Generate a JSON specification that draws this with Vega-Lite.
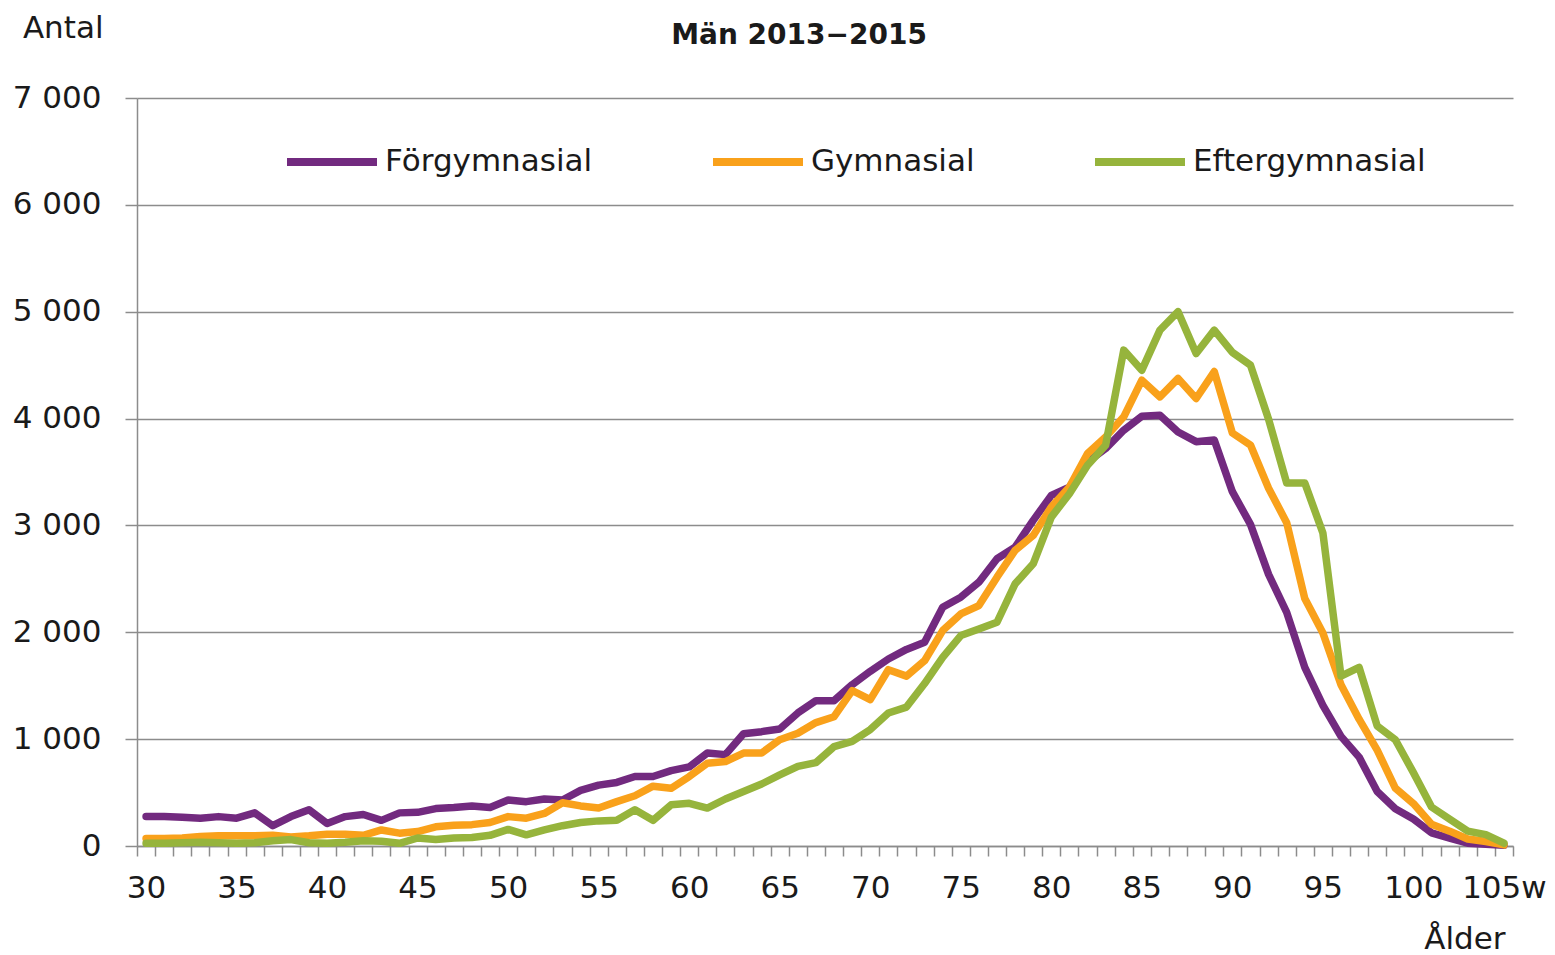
{
  "$schema": "https://vega.github.io/schema/vega-lite/v6.json",
  "width": 1376,
  "height": 748,
  "autosize": {"type": "none"},
  "padding": {"left": 137, "top": 98, "right": 42, "bottom": 109},
  "background": "white",
  "config": {
    "view": {"stroke": null},
    "font": "DejaVu Sans",
    "axis": {"labelFont": "DejaVu Sans", "titleFont": "DejaVu Sans", "labelColor": "#1a1a1a", "titleColor": "#1a1a1a", "labelFontSize": 31, "titleFontSize": 31, "titleFontWeight": "normal", "domainColor": "#8c8c8c", "tickColor": "#8c8c8c", "gridColor": "#8c8c8c", "domainWidth": 1.5, "tickWidth": 1.5, "gridWidth": 1.5},
    "legend": {"labelFont": "DejaVu Sans", "labelFontSize": 31, "labelColor": "#1a1a1a", "labelLimit": 0}
  },
  "title": {"text": "Män 2013−2015", "font": "DejaVu Sans", "fontSize": 28, "fontWeight": "bold", "color": "#1a1a1a", "anchor": "middle", "frame": "group", "dx": -26, "offset": 0, "baseline": "alphabetic", "dy": 60},
  "data": {"values": [
    {"age": 30, "Förgymnasial": 275, "Gymnasial": 70, "Eftergymnasial": 25},
    {"age": 31, "Förgymnasial": 275, "Gymnasial": 70, "Eftergymnasial": 25},
    {"age": 32, "Förgymnasial": 270, "Gymnasial": 75, "Eftergymnasial": 30},
    {"age": 33, "Förgymnasial": 260, "Gymnasial": 90, "Eftergymnasial": 35},
    {"age": 34, "Förgymnasial": 275, "Gymnasial": 95, "Eftergymnasial": 30},
    {"age": 35, "Förgymnasial": 260, "Gymnasial": 95, "Eftergymnasial": 25},
    {"age": 36, "Förgymnasial": 310, "Gymnasial": 95, "Eftergymnasial": 30},
    {"age": 37, "Förgymnasial": 190, "Gymnasial": 100, "Eftergymnasial": 50},
    {"age": 38, "Förgymnasial": 275, "Gymnasial": 85, "Eftergymnasial": 60},
    {"age": 39, "Förgymnasial": 340, "Gymnasial": 95, "Eftergymnasial": 30},
    {"age": 40, "Förgymnasial": 210, "Gymnasial": 110, "Eftergymnasial": 25},
    {"age": 41, "Förgymnasial": 275, "Gymnasial": 110, "Eftergymnasial": 35},
    {"age": 42, "Förgymnasial": 295, "Gymnasial": 100, "Eftergymnasial": 50},
    {"age": 43, "Förgymnasial": 240, "Gymnasial": 150, "Eftergymnasial": 45},
    {"age": 44, "Förgymnasial": 310, "Gymnasial": 120, "Eftergymnasial": 25},
    {"age": 45, "Förgymnasial": 315, "Gymnasial": 135, "Eftergymnasial": 75},
    {"age": 46, "Förgymnasial": 350, "Gymnasial": 180, "Eftergymnasial": 60},
    {"age": 47, "Förgymnasial": 360, "Gymnasial": 195, "Eftergymnasial": 75},
    {"age": 48, "Förgymnasial": 375, "Gymnasial": 200, "Eftergymnasial": 80},
    {"age": 49, "Förgymnasial": 360, "Gymnasial": 220, "Eftergymnasial": 100},
    {"age": 50, "Förgymnasial": 430, "Gymnasial": 275, "Eftergymnasial": 155},
    {"age": 51, "Förgymnasial": 415, "Gymnasial": 260, "Eftergymnasial": 105},
    {"age": 52, "Förgymnasial": 440, "Gymnasial": 305, "Eftergymnasial": 150},
    {"age": 53, "Förgymnasial": 430, "Gymnasial": 405, "Eftergymnasial": 190},
    {"age": 54, "Förgymnasial": 520, "Gymnasial": 375, "Eftergymnasial": 220},
    {"age": 55, "Förgymnasial": 570, "Gymnasial": 355, "Eftergymnasial": 235},
    {"age": 56, "Förgymnasial": 595, "Gymnasial": 415, "Eftergymnasial": 240},
    {"age": 57, "Förgymnasial": 650, "Gymnasial": 470, "Eftergymnasial": 340},
    {"age": 58, "Förgymnasial": 650, "Gymnasial": 560, "Eftergymnasial": 240},
    {"age": 59, "Förgymnasial": 705, "Gymnasial": 540, "Eftergymnasial": 385},
    {"age": 60, "Förgymnasial": 740, "Gymnasial": 650, "Eftergymnasial": 400},
    {"age": 61, "Förgymnasial": 870, "Gymnasial": 775, "Eftergymnasial": 355},
    {"age": 62, "Förgymnasial": 855, "Gymnasial": 790, "Eftergymnasial": 440},
    {"age": 63, "Förgymnasial": 1050, "Gymnasial": 870, "Eftergymnasial": 510},
    {"age": 64, "Förgymnasial": 1070, "Gymnasial": 870, "Eftergymnasial": 580},
    {"age": 65, "Förgymnasial": 1095, "Gymnasial": 995, "Eftergymnasial": 665},
    {"age": 66, "Förgymnasial": 1245, "Gymnasial": 1055, "Eftergymnasial": 745},
    {"age": 67, "Förgymnasial": 1360, "Gymnasial": 1155, "Eftergymnasial": 780},
    {"age": 68, "Förgymnasial": 1360, "Gymnasial": 1210, "Eftergymnasial": 930},
    {"age": 69, "Förgymnasial": 1510, "Gymnasial": 1455, "Eftergymnasial": 980},
    {"age": 70, "Förgymnasial": 1635, "Gymnasial": 1370, "Eftergymnasial": 1090},
    {"age": 71, "Förgymnasial": 1750, "Gymnasial": 1650, "Eftergymnasial": 1245},
    {"age": 72, "Förgymnasial": 1840, "Gymnasial": 1590, "Eftergymnasial": 1300},
    {"age": 73, "Förgymnasial": 1906, "Gymnasial": 1734, "Eftergymnasial": 1520},
    {"age": 74, "Förgymnasial": 2234, "Gymnasial": 2016, "Eftergymnasial": 1766},
    {"age": 75, "Förgymnasial": 2328, "Gymnasial": 2172, "Eftergymnasial": 1969},
    {"age": 76, "Förgymnasial": 2469, "Gymnasial": 2250, "Eftergymnasial": 2031},
    {"age": 77, "Förgymnasial": 2688, "Gymnasial": 2516, "Eftergymnasial": 2094},
    {"age": 78, "Förgymnasial": 2797, "Gymnasial": 2766, "Eftergymnasial": 2453},
    {"age": 79, "Förgymnasial": 3047, "Gymnasial": 2906, "Eftergymnasial": 2641},
    {"age": 80, "Förgymnasial": 3281, "Gymnasial": 3172, "Eftergymnasial": 3078},
    {"age": 81, "Förgymnasial": 3359, "Gymnasial": 3359, "Eftergymnasial": 3297},
    {"age": 82, "Förgymnasial": 3594, "Gymnasial": 3672, "Eftergymnasial": 3563},
    {"age": 83, "Förgymnasial": 3719, "Gymnasial": 3828, "Eftergymnasial": 3750},
    {"age": 84, "Förgymnasial": 3891, "Gymnasial": 4016, "Eftergymnasial": 4641},
    {"age": 85, "Förgymnasial": 4022, "Gymnasial": 4359, "Eftergymnasial": 4453},
    {"age": 86, "Förgymnasial": 4031, "Gymnasial": 4203, "Eftergymnasial": 4828},
    {"age": 87, "Förgymnasial": 3875, "Gymnasial": 4375, "Eftergymnasial": 5000},
    {"age": 88, "Förgymnasial": 3784, "Gymnasial": 4188, "Eftergymnasial": 4609},
    {"age": 89, "Förgymnasial": 3800, "Gymnasial": 4440, "Eftergymnasial": 4828},
    {"age": 90, "Förgymnasial": 3316, "Gymnasial": 3865, "Eftergymnasial": 4620},
    {"age": 91, "Förgymnasial": 3010, "Gymnasial": 3752, "Eftergymnasial": 4500},
    {"age": 92, "Förgymnasial": 2542, "Gymnasial": 3348, "Eftergymnasial": 3994},
    {"age": 93, "Förgymnasial": 2187, "Gymnasial": 3026, "Eftergymnasial": 3397},
    {"age": 94, "Förgymnasial": 1671, "Gymnasial": 2316, "Eftergymnasial": 3397},
    {"age": 95, "Förgymnasial": 1316, "Gymnasial": 1994, "Eftergymnasial": 2929},
    {"age": 96, "Förgymnasial": 1026, "Gymnasial": 1510, "Eftergymnasial": 1590},
    {"age": 97, "Förgymnasial": 832, "Gymnasial": 1187, "Eftergymnasial": 1671},
    {"age": 98, "Förgymnasial": 510, "Gymnasial": 897, "Eftergymnasial": 1123},
    {"age": 99, "Förgymnasial": 348, "Gymnasial": 542, "Eftergymnasial": 994},
    {"age": 100, "Förgymnasial": 252, "Gymnasial": 397, "Eftergymnasial": 687},
    {"age": 101, "Förgymnasial": 123, "Gymnasial": 203, "Eftergymnasial": 365},
    {"age": 102, "Förgymnasial": 74, "Gymnasial": 139, "Eftergymnasial": 252},
    {"age": 103, "Förgymnasial": 26, "Gymnasial": 65, "Eftergymnasial": 139},
    {"age": 104, "Förgymnasial": 16, "Gymnasial": 42, "Eftergymnasial": 106},
    {"age": 105, "Förgymnasial": 6, "Gymnasial": 10, "Eftergymnasial": 26}
  ]},
  "transform": [
    {"fold": ["Förgymnasial", "Gymnasial", "Eftergymnasial"], "as": ["group", "value"]}
  ],
  "mark": {"type": "line", "strokeWidth": 7.5, "strokeJoin": "round", "strokeCap": "round"},
  "encoding": {
    "x": {
      "field": "age", "type": "quantitative",
      "scale": {"domain": [29.5, 105.5], "nice": false, "zero": false},
      "axis": {
        "title": "Ålder", "titleAnchor": null, "titleAlign": "right", "titleBaseline": "alphabetic", "titleX": 1368, "titleY": 102,
        "values": [29.5,30.5,31.5,32.5,33.5,34.5,35.5,36.5,37.5,38.5,39.5,40.5,41.5,42.5,43.5,44.5,45.5,46.5,47.5,48.5,49.5,50.5,51.5,52.5,53.5,54.5,55.5,56.5,57.5,58.5,59.5,60.5,61.5,62.5,63.5,64.5,65.5,66.5,67.5,68.5,69.5,70.5,71.5,72.5,73.5,74.5,75.5,76.5,77.5,78.5,79.5,80.5,81.5,82.5,83.5,84.5,85.5,86.5,87.5,88.5,89.5,90.5,91.5,92.5,93.5,94.5,95.5,96.5,97.5,98.5,99.5,100.5,101.5,102.5,103.5,104.5,105.5],
        "labelExpr": "(datum.value + 0.5) % 5 == 0 && datum.value < 105 ? ((datum.value + 0.5) == 105 ? '105w' : format(datum.value + 0.5, 'd')) : ''",
        "labelOffset": 9, "labelFlush": false, "labelOverlap": false, "labelBound": false,
        "tickSize": 10, "labelPadding": 17, "grid": false
      }
    },
    "y": {
      "field": "value", "type": "quantitative",
      "scale": {"domain": [0, 7000], "nice": false},
      "axis": {
        "title": "Antal", "titleAngle": 0, "titleAnchor": null, "titleAlign": "right", "titleBaseline": "alphabetic", "titleX": -34, "titleY": -61,
        "values": [0, 1000, 2000, 3000, 4000, 5000, 6000, 7000],
        "labelExpr": "replace(format(datum.value, ',d'), ',', ' ')",
        "tickSize": 12, "labelPadding": 24, "grid": true
      }
    },
    "color": {
      "field": "group", "type": "nominal",
      "scale": {"domain": ["Förgymnasial", "Gymnasial", "Eftergymnasial"], "range": ["#722a7f", "#f9a11b", "#96b43c"]},
      "legend": {"title": null, "orient": "none", "legendX": 146, "legendY": 15, "direction": "horizontal", "symbolType": "stroke", "symbolSize": 8100, "symbolStrokeWidth": 8, "labelOffset": 4, "columnPadding": 104}
    }
  }
}
